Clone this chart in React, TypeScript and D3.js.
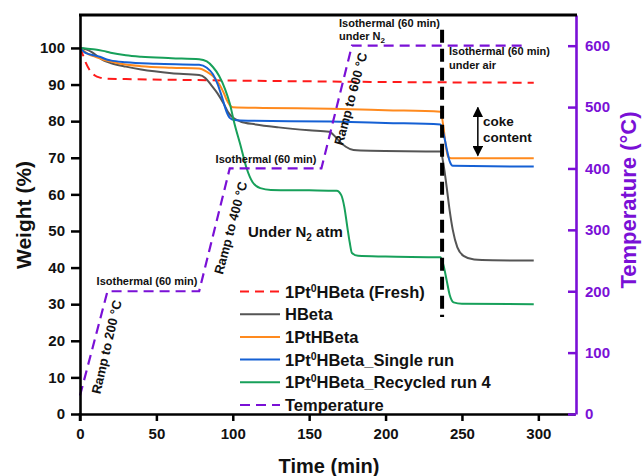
import * as React from 'react';
import * as d3 from 'd3';

type Pt = [number, number];

// weight (%) vs time (min)
const FRESH: Pt[] = [[0, 100], [2, 98], [4, 95.8], [6, 94.2], [8, 93.1], [10, 92.4], [13, 91.9], [17, 91.6], [30, 91.5], [100, 91.1], [200, 90.7], [297, 90.5]];
const HBETA: Pt[] = [[0, 100], [4, 99.6], [8, 98.8], [12, 97.5], [16, 96.5], [20, 95.9], [30, 94.9], [40, 94.1], [60, 93.1], [78, 92.6], [82, 91.8], [86, 89.8], [90, 87.6], [94, 84.8], [97, 82.4], [100, 81.0], [105, 79.9], [115, 79.1], [130, 78.3], [150, 77.5], [163, 77.1], [167, 75.8], [170, 74.4], [174, 73.0], [179, 72.1], [190, 71.9], [236, 71.7], [238, 68], [240, 62], [242, 55.5], [244, 50.3], [247, 45.5], [251, 43.2], [258, 42.2], [270, 42], [297, 41.9]];
const PT_HBETA: Pt[] = [[0, 100], [3, 99], [6, 98.2], [10, 97.6], [14, 97], [18, 96.5], [25, 95.8], [40, 95], [60, 94.6], [78, 94.4], [83, 93.5], [87, 92.3], [91, 90.2], [94, 87.8], [96, 85.8], [98, 84.4], [100, 83.8], [120, 83.6], [164, 83.4], [200, 83], [236, 82.6], [238, 78], [239.5, 73], [241, 70.2], [243, 69.9], [297, 69.9]];
const SINGLE: Pt[] = [[0, 100], [3, 98.8], [6, 98.3], [10, 97.9], [13, 97.6], [17, 96.9], [20, 96.6], [30, 96.1], [50, 95.7], [78, 95.4], [83, 94.6], [87, 92.8], [90, 90.2], [93, 86.5], [96, 82.5], [98, 80.9], [101, 80.3], [110, 80.1], [164, 79.9], [200, 79.5], [236, 79.1], [238, 76.5], [240, 72.5], [242, 69], [244, 67.8], [297, 67.6]];
const RECYCLED: Pt[] = [[0, 100], [5, 99.8], [10, 99.6], [15, 99.2], [20, 98.7], [30, 98], [40, 97.6], [60, 97.2], [78, 96.9], [83, 96.3], [87, 94.8], [91, 92.4], [95, 88.7], [98, 84.9], [101, 79.5], [105, 73.5], [109, 67.2], [113, 63.3], [118, 61.7], [125, 61.2], [150, 61.1], [168, 61], [171, 59.8], [173, 56.6], [175, 51], [176.5, 47], [178, 44], [182, 43.2], [200, 43], [236, 42.8], [238, 40.5], [240, 36.5], [242, 32.5], [244.5, 30.5], [250, 30.1], [297, 30]];
// temperature (°C) vs time (min)
const TEMPERATURE: Pt[] = [[0, 30], [18, 200], [78, 200], [98, 400], [158, 400], [178, 600], [293, 600]];

const X_TICKS = [0, 50, 100, 150, 200, 250, 300];
const Y_TICKS = [0, 10, 20, 30, 40, 50, 60, 70, 80, 90, 100];
const T_TICKS = [0, 100, 200, 300, 400, 500, 600];

const SWITCH_T = 237; // N2 -> air
const COKE_ARROW: Pt[] = [[260.4, 83.7], [260.4, 70.6]];

const SERIES = [
  { name: 'Fresh', pre: '1Pt', sup: '0', post: 'HBeta (Fresh)', data: FRESH, color: '#ff1a1a', dash: '9,6', axis: 'w' },
  { name: 'HBeta', pre: 'HBeta', sup: '', post: '', data: HBETA, color: '#555555', dash: null, axis: 'w' },
  { name: '1PtHBeta', pre: '1PtHBeta', sup: '', post: '', data: PT_HBETA, color: '#ff8a1e', dash: null, axis: 'w' },
  { name: 'Single', pre: '1Pt', sup: '0', post: 'HBeta_Single run', data: SINGLE, color: '#1560d4', dash: null, axis: 'w' },
  { name: 'Recycled', pre: '1Pt', sup: '0', post: 'HBeta_Recycled run 4', data: RECYCLED, color: '#17a05a', dash: null, axis: 'w' },
  { name: 'Temperature', pre: 'Temperature', sup: '', post: '', data: TEMPERATURE, color: '#7a10d6', dash: '10,6', axis: 't' }
];

const FONT = 'Arial, "Liberation Sans", sans-serif';
const PURPLE = '#7a10d6';

export default function App() {
  const svgRef = React.useRef<SVGSVGElement>(null);

  React.useEffect(() => {
    const svg = d3.select(svgRef.current);
    svg.selectAll('*').remove();
    svg.style('font-family', FONT);

    const x = d3.scaleLinear().domain([0, 324]).range([80, 575]);
    const y = d3.scaleLinear().domain([0, 109]).range([414, 15]);
    const yT = d3.scaleLinear().domain([0, 650]).range([414, 15]);

    /* ---- series ---- */
    const plot = svg.append('g');
    SERIES.forEach((s) => {
      const ys = s.axis === 't' ? yT : y;
      const line = d3
        .line<Pt>()
        .x((d) => x(d[0]))
        .y((d) => ys(d[1]))
        .curve(s.axis === 't' ? d3.curveLinear : d3.curveMonotoneX);
      plot
        .append('path')
        .datum(s.data)
        .attr('d', line)
        .attr('fill', 'none')
        .attr('stroke', s.color)
        .attr('stroke-width', s.axis === 't' ? 2.2 : 2)
        .attr('stroke-dasharray', s.dash);
    });

    // N2 -> air switch
    plot
      .append('line')
      .attr('x1', x(SWITCH_T))
      .attr('x2', x(SWITCH_T))
      .attr('y1', y(105))
      .attr('y2', y(26.5))
      .attr('stroke', '#000')
      .attr('stroke-width', 4)
      .attr('stroke-dasharray', '13,6');

    // coke arrow
    const defs = svg.append('defs');
    defs
      .append('marker')
      .attr('id', 'ah')
      .attr('viewBox', '0 0 10 10')
      .attr('refX', 9)
      .attr('refY', 5)
      .attr('markerWidth', 7)
      .attr('markerHeight', 7)
      .attr('orient', 'auto-start-reverse')
      .append('path')
      .attr('d', 'M0,0L10,5L0,10z')
      .attr('fill', '#000');
    plot
      .append('line')
      .attr('x1', x(COKE_ARROW[0][0]))
      .attr('x2', x(COKE_ARROW[1][0]))
      .attr('y1', y(COKE_ARROW[0][1]))
      .attr('y2', y(COKE_ARROW[1][1]))
      .attr('stroke', '#000')
      .attr('stroke-width', 1.5)
      .attr('marker-start', 'url(#ah)')
      .attr('marker-end', 'url(#ah)');

    /* ---- axes ---- */
    const left = svg
      .append('g')
      .attr('transform', 'translate(80,0)')
      .call(d3.axisLeft(y).tickValues(Y_TICKS).tickSize(9).tickSizeOuter(0).tickPadding(6));
    const bottom = svg
      .append('g')
      .attr('transform', 'translate(0,414)')
      .call(d3.axisBottom(x).tickValues(X_TICKS).tickSize(7).tickSizeOuter(0).tickPadding(7));
    const right = svg
      .append('g')
      .attr('transform', 'translate(576,0)')
      .call(d3.axisRight(yT).tickValues(T_TICKS).tickSize(-8).tickSizeOuter(0).tickPadding(9));

    [left, bottom, right].forEach((a) => {
      a.selectAll('text').attr('font-size', 15).attr('font-weight', 'bold').attr('font-family', FONT);
      a.selectAll('line').attr('stroke-width', 2.5);
      a.select('.domain').attr('stroke-width', 2.6);
    });
    left.selectAll('text').attr('fill', '#111');
    bottom.selectAll('text').attr('fill', '#111');
    right.selectAll('line').attr('stroke', PURPLE);
    right.select('.domain').attr('stroke', PURPLE);
    right.selectAll('text').attr('fill', PURPLE);

    // top frame
    svg
      .append('line')
      .attr('x1', 79)
      .attr('x2', 577)
      .attr('y1', 15)
      .attr('y2', 15)
      .attr('stroke', '#000')
      .attr('stroke-width', 3);
    // left axis extension below bottom axis
    svg.append('line').attr('x1', 80).attr('x2', 80).attr('y1', 413).attr('y2', 421).attr('stroke', '#000').attr('stroke-width', 2.5);

    // axis titles
    svg
      .append('text')
      .attr('x', 329)
      .attr('y', 473)
      .attr('text-anchor', 'middle')
      .attr('font-size', 20)
      .attr('font-weight', 'bold')
      .attr('fill', '#111')
      .text('Time (min)');
    svg
      .append('text')
      .attr('transform', 'translate(31,215) rotate(-90)')
      .attr('text-anchor', 'middle')
      .attr('font-size', 21)
      .attr('font-weight', 'bold')
      .attr('fill', '#111')
      .text('Weight (%)');
    svg
      .append('text')
      .attr('transform', 'translate(636,200) rotate(-90)')
      .attr('text-anchor', 'middle')
      .attr('font-size', 22)
      .attr('font-weight', 'bold')
      .attr('fill', PURPLE)
      .text('Temperature (°C)');

    /* ---- annotations ---- */
    const ann = svg.append('g').attr('font-weight', 'bold').attr('fill', '#111');
    const note = (tx: number, ty: number, txt: string, size: number, anchor = 'start', rot = 0) =>
      ann
        .append('text')
        .attr('transform', `translate(${tx},${ty}) rotate(${rot})`)
        .attr('text-anchor', anchor)
        .attr('font-size', size)
        .text(txt);

    note(147, 285, 'Isothermal (60 min)', 11, 'middle');
    note(266, 163, 'Isothermal (60 min)', 11, 'middle');
    note(339, 27, 'Isothermal (60 min)', 11);
    const n2 = note(339, 40, 'under N', 11);
    n2.append('tspan').attr('dy', 3).attr('font-size', 8).text('2');
    note(449, 55, 'Isothermal (60 min)', 11);
    note(449, 69, 'under air', 11);
    note(111, 348, 'Ramp to 200 °C', 13, 'middle', -77);
    note(235, 229, 'Ramp to 400 °C', 13, 'middle', -75);
    note(355, 100, 'Ramp to 600 °C', 13, 'middle', -75);
    const atm = note(248, 237, 'Under N', 15);
    atm.append('tspan').attr('dy', 4).attr('font-size', 10).text('2');
    atm.append('tspan').attr('dy', -4).text(' atm');
    note(483, 126, 'coke', 13.5);
    note(483, 142, 'content', 13.5);

    /* ---- legend ---- */
    const leg = svg.append('g').attr('transform', 'translate(240,291.5)');
    SERIES.forEach((s, i) => {
      const row = leg.append('g').attr('transform', `translate(0,${i * 22.7})`);
      row
        .append('line')
        .attr('x1', 0)
        .attr('x2', 40)
        .attr('stroke', s.color)
        .attr('stroke-width', 2)
        .attr('stroke-dasharray', s.dash);
      const t = row
        .append('text')
        .attr('x', 45)
        .attr('y', 6)
        .attr('font-size', 16.5)
        .attr('font-weight', 'bold')
        .attr('fill', '#111')
        .text(s.pre);
      if (s.sup) {
        t.append('tspan').attr('dy', -6).attr('font-size', 10.5).text(s.sup);
        t.append('tspan').attr('dy', 6).text(s.post);
      }
    });
  }, []);

  return (
    <svg
      ref={svgRef}
      width={642}
      height={476}
      style={{ position: 'absolute', left: 0, top: 0, background: '#fff' }}
    />
  );
}
